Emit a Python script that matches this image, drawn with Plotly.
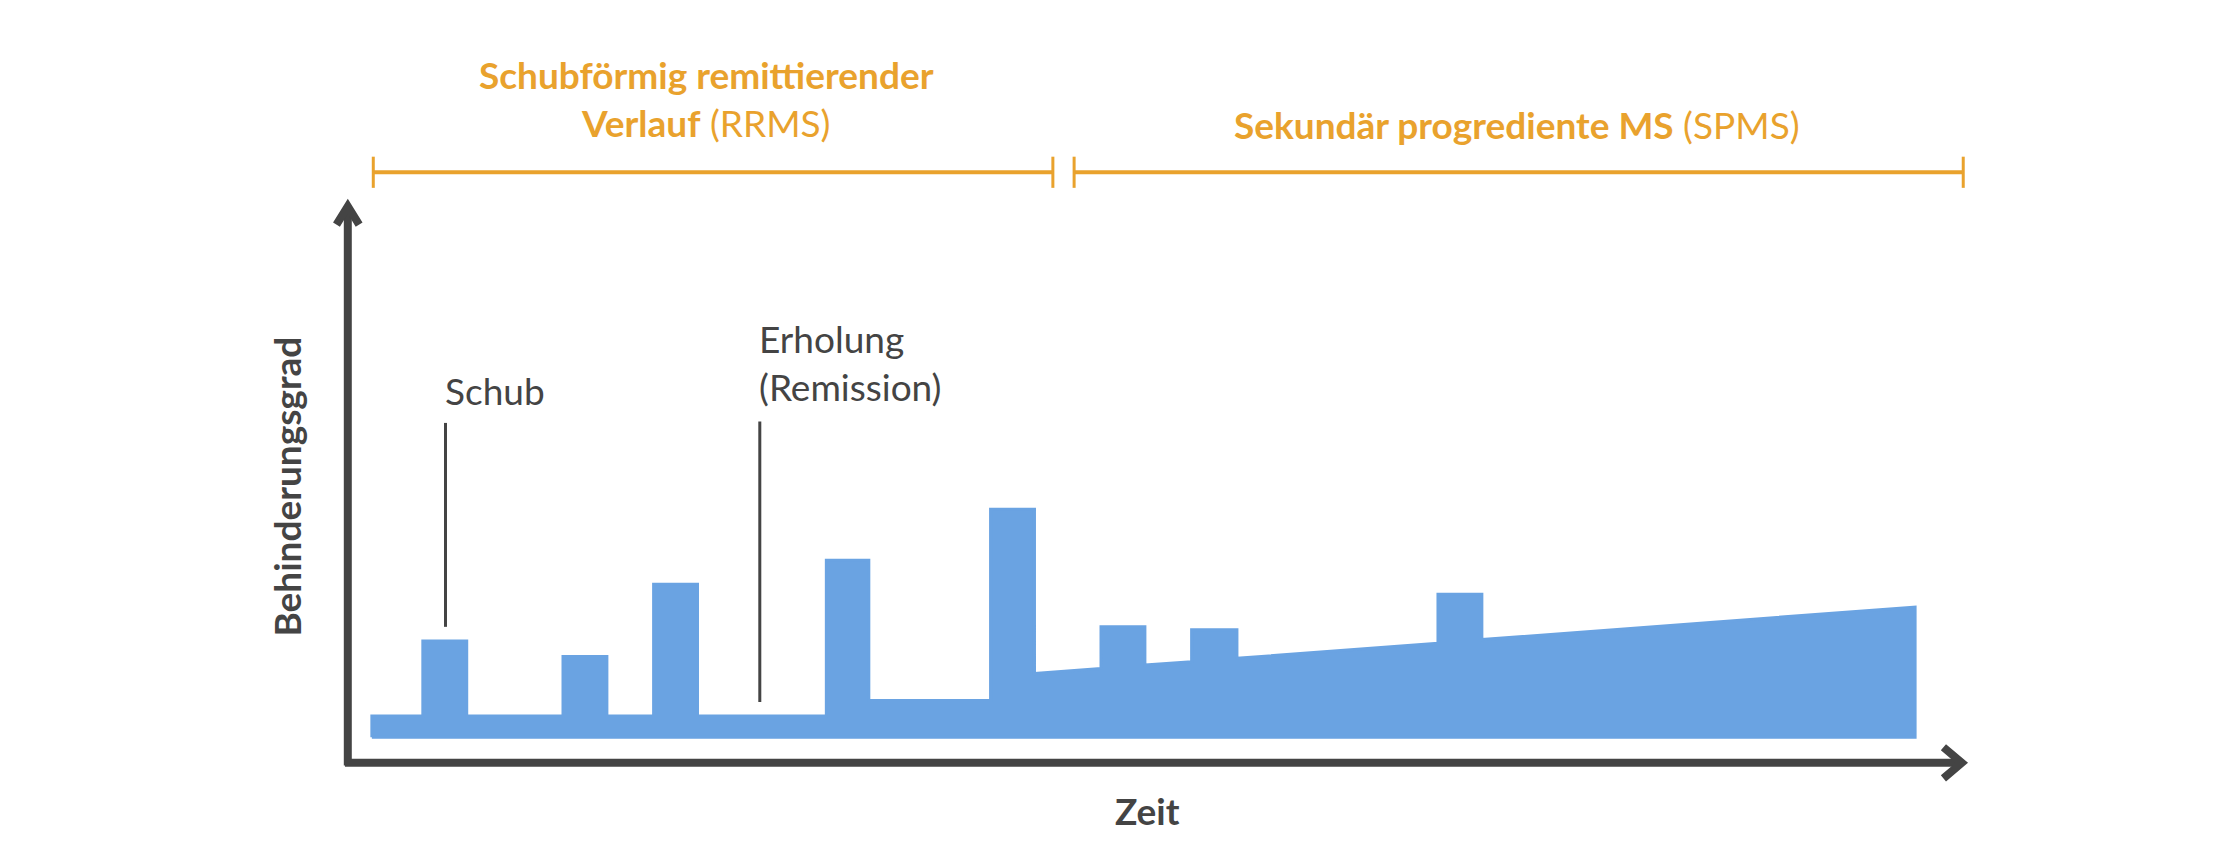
import plotly.graph_objects as go

# outline of the disability course (time units, disability level)
course_x = [257, 257, 293, 293, 324, 324, 392, 392, 423, 423, 456, 456, 487, 487,
            578, 578, 608, 608, 694, 694, 725, 725, 772, 772, 803, 803, 836, 836,
            868, 868, 1010, 1010, 1041, 1041, 1347, 1347]
course_y = [0, 15, 15, 68, 68, 15, 15, 57, 57, 15, 15, 108, 108, 15,
            15, 125, 125, 26, 26, 161, 161, 45, 48.6, 78, 78, 51, 53.4, 76,
            76, 55.8, 66.5, 101, 101, 69, 92, 0]

phase_labels = ["<b>Schubförmig remittierender</b><br><b>Verlauf</b> (RRMS)",
                "<b>Sekundär progrediente MS</b> (SPMS)"]
phase_x = [(258, 738), (753, 1381)]

S = 1.416
BLUE = "#6aa3e2"
ORANGE = "#e9a22d"
DARK = "#444444"
FONT = "Lato"

def L(py):  # display pixel row -> level
    return 515 - py

fig = go.Figure()
fig.add_trace(go.Scatter(x=course_x + [course_x[0]], y=course_y + [course_y[0]],
                         fill="toself", fillcolor=BLUE, mode="lines",
                         line=dict(color=BLUE, width=3, shape="linear"),
                         hoverinfo="skip", showlegend=False))

shapes = []
# axes
shapes.append(dict(type="line", x0=240, x1=240, y0=L(535), y1=L(140),
                   line=dict(color=DARK, width=8)))
shapes.append(dict(type="line", x0=238, x1=1380, y0=L(533), y1=L(533),
                   line=dict(color=DARK, width=8)))
shapes.append(dict(type="path", path=f"M 232,{L(153)} L 240,{L(140)} L 248,{L(153)}",
                   line=dict(color=DARK, width=8)))
shapes.append(dict(type="path", path=f"M 1367,{L(522)} L 1380,{L(533)} L 1367,{L(544)}",
                   line=dict(color=DARK, width=8)))
# phase brackets
for (a, b) in phase_x:
    shapes.append(dict(type="line", x0=a, x1=b, y0=L(116), y1=L(116),
                       line=dict(color=ORANGE, width=4)))
    for xx in (a, b):
        shapes.append(dict(type="line", x0=xx, x1=xx, y0=L(105), y1=L(127),
                           line=dict(color=ORANGE, width=3)))
# pointer lines
shapes.append(dict(type="line", x0=309, x1=309, y0=L(293), y1=L(437),
                   line=dict(color=DARK, width=3)))
shapes.append(dict(type="line", x0=531, x1=531, y0=L(292), y1=L(490),
                   line=dict(color=DARK, width=3)))

tf = dict(family=FONT, size=37, color=ORANGE)
lf = dict(family=FONT, size=37, color=DARK)
ann = [
    dict(x=493, y=L(64), text=phase_labels[0], font=tf, align="center"),
    dict(x=1066, y=L(82), text=phase_labels[1], font=tf, align="center"),
    dict(x=307, y=L(270), text="Schub", font=lf, xanchor="left"),
    dict(x=529, y=L(250), text="Erholung<br>(Remission)", font=lf, xanchor="left", align="left"),
    dict(x=805, y=L(567), text="<b>Zeit</b>", font=lf),
    dict(x=197, y=L(338), text="<b>Behinderungsgrad</b>", font=lf, textangle=-90),
]
for a in ann:
    a.update(xref="x", yref="y", showarrow=False)

fig.update_layout(width=2220, height=861, margin=dict(l=0, r=0, t=0, b=0),
                  paper_bgcolor="white", plot_bgcolor="white",
                  xaxis=dict(range=[0, 1568], visible=False, fixedrange=True),
                  yaxis=dict(range=[-93, 515], visible=False, fixedrange=True),
                  shapes=shapes, annotations=ann, showlegend=False)
fig.write_html("out.html")
